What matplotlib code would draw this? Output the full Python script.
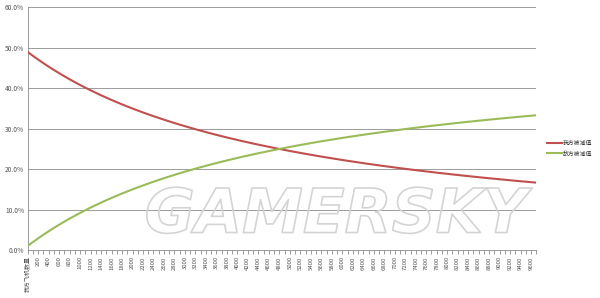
import matplotlib
matplotlib.use('Agg')
import matplotlib.pyplot as plt
import matplotlib.patheffects as pe

plt.rcParams['font.family'] = ['Noto Sans CJK SC', 'DejaVu Sans']

# category axis: header cell first, then 100..9700
x_labels = ['我方飞机数量'] + [str(v) for v in range(100, 9800, 100)]

ours = [49.00, 48.04, 47.12, 46.23, 45.37, 44.55, 43.75, 42.98, 42.24, 41.53,
        40.83, 40.16, 39.52, 38.89, 38.28, 37.69, 37.12, 36.57, 36.03, 35.51,
        35.00, 34.51, 34.03, 33.56, 33.11, 32.67, 32.24, 31.82, 31.41, 31.01,
        30.63, 30.25, 29.88, 29.52, 29.17, 28.82, 28.49, 28.16, 27.84, 27.53,
        27.22, 26.92, 26.63, 26.34, 26.06, 25.79, 25.52, 25.26, 25.00, 24.75,
        24.50, 24.26, 24.02, 23.79, 23.56, 23.33, 23.11, 22.90, 22.69, 22.48,
        22.27, 22.07, 21.88, 21.68, 21.49, 21.30, 21.12, 20.94, 20.76, 20.59,
        20.42, 20.25, 20.08, 19.92, 19.76, 19.60, 19.44, 19.29, 19.14, 18.99,
        18.85, 18.70, 18.56, 18.42, 18.28, 18.15, 18.01, 17.88, 17.75, 17.63,
        17.50, 17.38, 17.25, 17.13, 17.01, 16.90, 16.78, 16.67]

enemy = [1.00, 1.96, 2.88, 3.77, 4.63, 5.45, 6.25, 7.02, 7.76, 8.47,
         9.17, 9.84, 10.48, 11.11, 11.72, 12.31, 12.88, 13.43, 13.97, 14.49,
         15.00, 15.49, 15.97, 16.44, 16.89, 17.33, 17.76, 18.18, 18.59, 18.99,
         19.37, 19.75, 20.12, 20.48, 20.83, 21.18, 21.51, 21.84, 22.16, 22.47,
         22.78, 23.08, 23.37, 23.66, 23.94, 24.21, 24.48, 24.74, 25.00, 25.25,
         25.50, 25.74, 25.98, 26.21, 26.44, 26.67, 26.89, 27.10, 27.31, 27.52,
         27.73, 27.93, 28.12, 28.32, 28.51, 28.70, 28.88, 29.06, 29.24, 29.41,
         29.58, 29.75, 29.92, 30.08, 30.24, 30.40, 30.56, 30.71, 30.86, 31.01,
         31.15, 31.30, 31.44, 31.58, 31.72, 31.85, 31.99, 32.12, 32.25, 32.37,
         32.50, 32.62, 32.75, 32.87, 32.99, 33.10, 33.22, 33.33]

series_names = ['我方被减值', '敌方被减值']
y_ticks = [0, 10, 20, 30, 40, 50, 60]

fig = plt.figure(figsize=(6.0, 2.98), dpi=100)
ax = fig.add_axes([0.046, 0.161, 0.848, 0.814])

idx = list(range(len(x_labels)))
ax.plot(idx, ours, color='#C0504D', lw=1.5, label=series_names[0], zorder=3)
ax.plot(idx, enemy, color='#9BBB59', lw=1.5, label=series_names[1], zorder=3)

# gridlines / axes, excel style
ax.set_ylim(0, 60)
ax.set_xlim(0, len(x_labels) - 1)
ax.set_yticks(y_ticks)
ax.set_yticklabels(['%.1f%%' % v for v in y_ticks], fontsize=4.8, color='#555555')
ax.yaxis.grid(True, color='#8c8c8c', lw=0.6)
ax.tick_params(axis='y', length=0, pad=2.5)

ax.set_xticks(idx)
ax.set_xticklabels([lab if i % 2 == 0 else '' for i, lab in enumerate(x_labels)],
                   rotation=90, fontsize=4.3, color='#555555')
ax.tick_params(axis='x', length=3, width=0.6, color='#8c8c8c', pad=1.5)

for s in ['top', 'right']:
    ax.spines[s].set_visible(False)
ax.spines['left'].set_color('#8c8c8c')
ax.spines['left'].set_linewidth(0.6)
ax.spines['bottom'].set_color('#8c8c8c')
ax.spines['bottom'].set_linewidth(0.6)

leg = fig.legend(loc='center left', bbox_to_anchor=(0.903, 0.502), frameon=False,
                 fontsize=4.2, handlelength=2.5, handletextpad=0.25, labelspacing=0.9)
for t in leg.get_texts():
    t.set_color('#333333')

# watermark
fig.text(0.56, 0.275, 'GAMERSKY', fontsize=44, fontweight='bold', style='italic',
         color='none', ha='center', va='center', family='DejaVu Sans',
         path_effects=[pe.Stroke(linewidth=1.2, foreground='#d4d4d4')], zorder=5)

plt.savefig('out.png', dpi=100)
